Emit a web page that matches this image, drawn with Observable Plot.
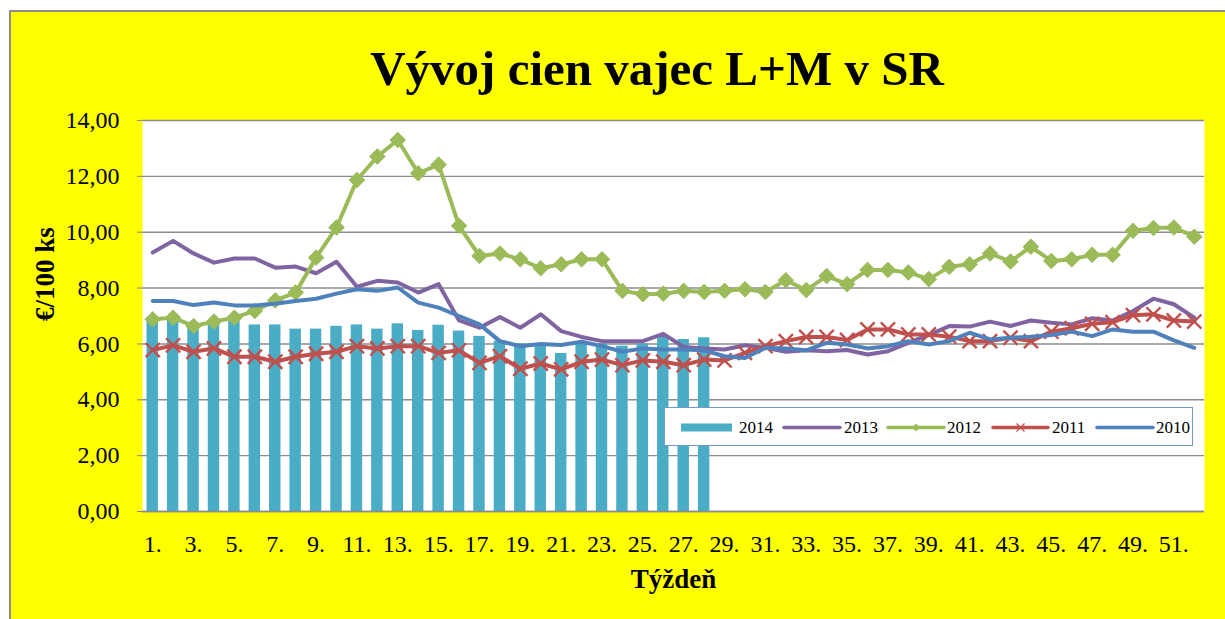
<!DOCTYPE html>
<html>
<head>
<meta charset="utf-8">
<script src="https://cdn.jsdelivr.net/npm/d3@7"></script>
<script src="https://cdn.jsdelivr.net/npm/@observablehq/plot@0.6"></script>
<style>
  body { margin: 0; background: #ffffff; }
  #wrap { position: relative; width: 1225px; height: 619px; overflow: hidden; font-family: "Liberation Serif", "Times New Roman", serif; }
  #frame { position: absolute; left: 9px; top: 10px; width: 1230px; height: 620px; background: #ffff00; border-left: 2px solid #8c8c8c; border-top: 2px solid #8c8c8c; }
  #title { position: absolute; left: 0; width: 1314px; top: 44px; text-align: center; font-weight: bold; font-size: 49px; line-height: 49px; color: #000; white-space: nowrap; }
  #plot { position: absolute; left: 0; top: 111px; }
  #legend { position: absolute; left: 664px; top: 407px; width: 529px; height: 39px; background: #fff; border: 1px solid #7399cf; box-sizing: border-box; }
  #legend svg { position: absolute; left: 0; top: 0; }
</style>
</head>
<body>
<div id="wrap">
  <div id="frame"></div>
  <div id="title">Vývoj cien vajec L+M v SR</div>
  <div id="plot"></div>
  <div id="legend"></div>
</div>
<script>
// ---- data ----
const weeks = d3.range(1, 53);
const yTicks = [0, 2, 4, 6, 8, 10, 12, 14];
const xTickWeeks = weeks.filter(w => w % 2 === 1);
const seriesNames = ["2014", "2013", "2012", "2011", "2010"];
const seriesColors = ["#4BACC6", "#8064A2", "#9BBB59", "#C0504D", "#4F81BD"];

const y2014 = [6.82, 6.9, 6.7, 6.75, 6.92, 6.68, 6.68, 6.53, 6.53, 6.63,
               6.68, 6.53, 6.72, 6.48, 6.67, 6.46, 6.27, 6.1, 6.0, 6.0,
               5.66, 6.05, 6.0, 5.92, 6.0, 6.27, 6.16, 6.22];
const y2013 = [9.27, 9.69, 9.24, 8.91, 9.06, 9.06, 8.73, 8.77, 8.53, 8.94,
               8.05, 8.26, 8.2, 7.84, 8.14, 6.84, 6.58, 6.96, 6.58, 7.06,
               6.46, 6.25, 6.1, 6.1, 6.1, 6.36, 5.89, 5.84, 5.8, 5.95,
               5.86, 5.72, 5.77, 5.74, 5.78, 5.62, 5.74, 6.04, 6.32, 6.64,
               6.62, 6.8, 6.64, 6.84, 6.76, 6.7, 6.92, 6.84, 7.18, 7.62,
               7.42, 6.94];
const y2012 = [6.88, 6.94, 6.64, 6.8, 6.94, 7.18, 7.56, 7.84, 9.09, 10.17,
               11.87, 12.71, 13.3, 12.11, 12.42, 10.23, 9.15, 9.24, 9.03, 8.71,
               8.85, 9.03, 9.03, 7.9, 7.78, 7.8, 7.9, 7.86, 7.9, 7.96,
               7.86, 8.28, 7.93, 8.43, 8.14, 8.65, 8.65, 8.56, 8.32, 8.76,
               8.85, 9.24, 8.95, 9.48, 8.97, 9.03, 9.19, 9.19, 10.05, 10.15,
               10.17, 9.84];
const y2011 = [5.78, 5.95, 5.72, 5.84, 5.54, 5.54, 5.36, 5.54, 5.65, 5.72,
               5.92, 5.84, 5.92, 5.92, 5.68, 5.77, 5.32, 5.56, 5.11, 5.3,
               5.09, 5.36, 5.44, 5.24, 5.41, 5.36, 5.24, 5.44, 5.41, 5.68,
               5.92, 6.1, 6.25, 6.25, 6.14, 6.52, 6.52, 6.34, 6.34, 6.26,
               6.1, 6.1, 6.22, 6.1, 6.44, 6.56, 6.72, 6.78, 7.03, 7.06,
               6.84, 6.8];
const y2010 = [7.54, 7.54, 7.39, 7.48, 7.38, 7.38, 7.44, 7.54, 7.62, 7.8,
               7.96, 7.9, 8.02, 7.48, 7.3, 7.0, 6.7, 6.1, 5.92, 6.0,
               5.96, 6.08, 5.92, 5.72, 5.84, 5.8, 5.8, 5.77, 5.56, 5.5,
               5.86, 5.84, 5.77, 6.04, 5.98, 5.84, 5.92, 6.1, 5.98, 6.1,
               6.4, 6.16, 6.22, 6.26, 6.32, 6.44, 6.28, 6.52, 6.44, 6.44,
               6.13, 5.86];

const rows = (arr) => arr.map((v, i) => ({week: weeks[i], value: v}));
const d2014 = rows(y2014), d2013 = rows(y2013), d2012 = rows(y2012), d2011 = rows(y2011), d2010 = rows(y2010);

const fmt = d => d.toFixed(2).replace(".", ",");

const chart = Plot.plot({
  width: 1225,
  height: 508,
  marginLeft: 142,
  marginRight: 21,
  marginTop: 9,
  marginBottom: 108,
  style: {background: "transparent", fontFamily: "'Liberation Serif', 'Times New Roman', serif", fontSize: "24px", color: "#000", overflow: "visible"},
  x: {type: "band", domain: weeks, paddingInner: 0.44, paddingOuter: 0.22, round: false},
  y: {domain: [0, 14]},
  marks: [
    Plot.frame({fill: "#ffffff", stroke: null}),
    Plot.ruleY(yTicks, {stroke: "#8c8c8c", strokeWidth: 1.4}),
    Plot.barY(d2014, {x: "week", y: "value", fill: seriesColors[0]}),
    Plot.lineY(d2013, {x: "week", y: "value", stroke: seriesColors[1], strokeWidth: 4}),
    Plot.lineY(d2012, {x: "week", y: "value", stroke: seriesColors[2], strokeWidth: 4}),
    Plot.dot(d2012, {x: "week", y: "value", symbol: "diamond2", r: 7, fill: seriesColors[2], stroke: seriesColors[2], strokeWidth: 1}),
    Plot.lineY(d2011, {x: "week", y: "value", stroke: seriesColors[3], strokeWidth: 4}),
    Plot.dot(d2011, {x: "week", y: "value", symbol: "times", r: 6.5, stroke: seriesColors[3], strokeWidth: 2.4}),
    Plot.lineY(d2010, {x: "week", y: "value", stroke: seriesColors[4], strokeWidth: 4}),
    Plot.axisY({ticks: yTicks, tickFormat: fmt, tickSize: 5, tickPadding: 18, stroke: "#8c8c8c", label: null, fontSize: 24}),
    Plot.axisX({ticks: xTickWeeks, tickFormat: d => d + ".", tickSize: 0, tickPadding: 23, label: null, fontSize: 24}),
    Plot.ruleY([0], {stroke: "#8c8c8c", strokeWidth: 1.6}),
    Plot.text(["Týždeň"], {frameAnchor: "bottom", dy: 76, fontWeight: "bold", fontSize: 27, fill: "#000"}),
    Plot.text(["€/100 ks"], {frameAnchor: "left", dx: -97, dy: 5, rotate: -90, fontWeight: "bold", fontSize: 27, fill: "#000"})
  ]
});
document.getElementById("plot").appendChild(chart);

// ---- legend (inside plot area, as in the reference) ----
const lg = d3.select("#legend").append("svg").attr("width", 529).attr("height", 39)
  .style("font-family", "'Liberation Serif', 'Times New Roman', serif");
const items = [
  {name: seriesNames[0], x0: 16, x1: 67, tx: 74, type: "bar"},
  {name: seriesNames[1], x0: 119, x1: 175, tx: 179, type: "line"},
  {name: seriesNames[2], x0: 223, x1: 279, tx: 282, type: "diamond"},
  {name: seriesNames[3], x0: 328, x1: 383, tx: 387, type: "times"},
  {name: seriesNames[4], x0: 432, x1: 488, tx: 491, type: "line"}
];
const cy = 19.5;
items.forEach((it, i) => {
  const c = seriesColors[i];
  if (it.type === "bar") {
    lg.append("rect").attr("x", it.x0).attr("y", cy - 4).attr("width", it.x1 - it.x0).attr("height", 8).attr("fill", c);
  } else {
    lg.append("line").attr("x1", it.x0).attr("x2", it.x1).attr("y1", cy).attr("y2", cy)
      .attr("stroke", c).attr("stroke-width", 3.5).attr("stroke-linecap", "round");
    const mx = (it.x0 + it.x1) / 2;
    if (it.type === "diamond") {
      lg.append("path").attr("d", `M${mx},${cy-4}L${mx+4},${cy}L${mx},${cy+4}L${mx-4},${cy}Z`).attr("fill", c);
    } else if (it.type === "times") {
      lg.append("path").attr("d", `M${mx-4},${cy-4}L${mx+4},${cy+4}M${mx-4},${cy+4}L${mx+4},${cy-4}`).attr("stroke", c).attr("stroke-width", 1.2);
    }
  }
  lg.append("text").attr("x", it.tx).attr("y", cy).attr("dy", "0.35em").attr("font-size", 17).attr("fill", "#000").text(it.name);
});
</script>
</body>
</html>
